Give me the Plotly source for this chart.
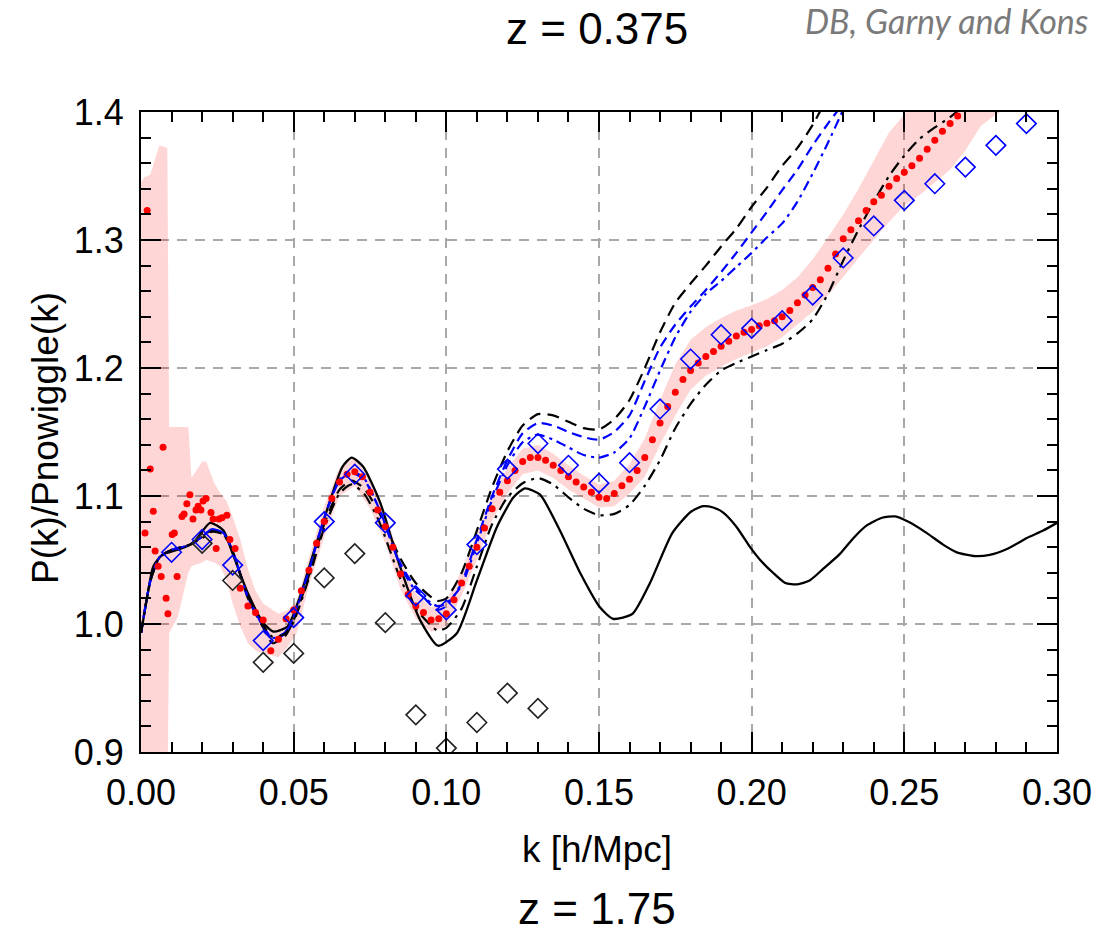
import numpy as np
import plotly.graph_objects as go

# ---------------- data ----------------
# linear-theory wiggle ratio (solid black)
k_lin = [0.000, 0.002, 0.004, 0.007, 0.012, 0.017, 0.0226, 0.027, 0.030, 0.035,
         0.040, 0.0433, 0.048, 0.052, 0.0564, 0.062, 0.066, 0.069, 0.0727, 0.0783,
         0.0848, 0.0914, 0.0973, 0.1035, 0.110, 0.1166, 0.122, 0.1258, 0.1307, 0.1372,
         0.1438, 0.1503, 0.1546, 0.161, 0.1667, 0.174, 0.180, 0.184, 0.1874, 0.1907,
         0.195, 0.1995, 0.2028, 0.207, 0.211, 0.2149, 0.219, 0.2234, 0.229, 0.2333,
         0.2377, 0.2427, 0.247, 0.2512, 0.2574, 0.2627, 0.2672, 0.2732, 0.278, 0.284,
         0.290, 0.2955, 0.300]
p_lin = [0.993, 1.021, 1.045, 1.054, 1.058, 1.063, 1.079, 1.073, 1.055, 1.024,
         1.001, 0.994, 0.998, 1.021, 1.055, 1.097, 1.123, 1.130, 1.123, 1.095,
         1.045, 1.003, 0.983, 0.993, 1.034, 1.076, 1.099, 1.106, 1.101, 1.073,
         1.040, 1.013, 1.004, 1.008, 1.032, 1.071, 1.0875, 1.092, 1.091, 1.087,
         1.076, 1.060, 1.050, 1.040, 1.032, 1.031, 1.034, 1.043, 1.055, 1.067,
         1.077, 1.083, 1.084, 1.080, 1.071, 1.062, 1.056, 1.053, 1.054, 1.059,
         1.067, 1.073, 1.079]

# resummed / perturbative predictions
k_model = [0.000, 0.003, 0.006, 0.010, 0.015, 0.020, 0.023, 0.027, 0.030, 0.035,
           0.040, 0.043, 0.047, 0.050, 0.055, 0.060, 0.065, 0.069, 0.073, 0.078,
           0.085, 0.090, 0.097, 0.100, 0.105, 0.110, 0.115, 0.120, 0.125, 0.130,
           0.135, 0.140, 0.145, 0.150, 0.155, 0.160, 0.165, 0.170, 0.175, 0.180,
           0.185, 0.190, 0.195, 0.200, 0.205, 0.210, 0.215, 0.220, 0.225, 0.230,
           0.235, 0.240, 0.245, 0.250, 0.255, 0.260, 0.265, 0.270]
p_black_dash = [0.993, 1.033, 1.052, 1.058, 1.061, 1.068, 1.073, 1.070, 1.057, 1.020,
                0.997, 0.985, 0.990, 1.003, 1.038, 1.078, 1.105, 1.112, 1.106, 1.087,
                1.051, 1.032, 1.018, 1.020, 1.040, 1.073, 1.107, 1.135, 1.155, 1.164,
                1.163, 1.158, 1.153, 1.152, 1.160, 1.175, 1.200, 1.228, 1.251, 1.266,
                1.280, 1.295, 1.309, 1.326, 1.341, 1.358, 1.372, 1.390, 1.412, 1.432,
                None, None, None, None, None, None, None, None]
p_blue_dash = [0.993, 1.033, 1.052, 1.058, 1.061, 1.068, 1.074, 1.071, 1.057, 1.021,
               0.998, 0.988, 0.992, 1.006, 1.042, 1.083, 1.112, 1.118, 1.113, 1.090,
               1.047, 1.028, 1.011, 1.014, 1.032, 1.066, 1.100, 1.128, 1.149, 1.157,
               1.155, 1.150, 1.146, 1.144, 1.150, 1.163, 1.190, 1.216, 1.234, 1.248,
               1.261, 1.275, 1.290, 1.306, 1.322, 1.339, 1.355, 1.374, 1.391, 1.407,
               1.425, None, None, None, None, None, None, None]
p_blue_dashdot = [0.993, 1.033, 1.052, 1.058, 1.061, 1.068, 1.074, 1.071, 1.057, 1.021,
                  0.998, 0.989, 0.993, 1.006, 1.042, 1.083, 1.113, 1.119, 1.114, 1.090,
                  1.045, 1.026, 1.014, 1.016, 1.030, 1.063, 1.097, 1.124, 1.142, 1.148,
                  1.144, 1.138, 1.132, 1.130, 1.134, 1.145, 1.170, 1.198, 1.224, 1.244,
                  1.258, 1.268, 1.279, 1.290, 1.302, 1.313, 1.330, 1.352, 1.376, 1.402,
                  1.430, None, None, None, None, None, None, None]
p_black_dashdot = [0.993, 1.033, 1.052, 1.058, 1.061, 1.067, 1.072, 1.070, 1.056, 1.022,
                   0.999, 0.990, 0.992, 1.002, 1.036, 1.075, 1.102, 1.109, 1.102, 1.080,
                   1.035, 1.012, 0.995, 0.997, 1.012, 1.045, 1.078, 1.099, 1.110, 1.114,
                   1.109, 1.099, 1.090, 1.085, 1.086, 1.093, 1.108, 1.128, 1.153, 1.172,
                   1.187, 1.198, 1.204, 1.209, 1.214, 1.219, 1.227, 1.238, 1.258, 1.284,
                   1.308, 1.330, 1.350, 1.366, 1.379, 1.388, 1.396, 1.406]

# N-body measurement: sparse low-k modes
k_sim_low = [0.0013, 0.0020, 0.0030, 0.0040, 0.0046, 0.0056, 0.0066, 0.0072, 0.0082, 0.0088,
             0.0102, 0.0109, 0.0118, 0.0134, 0.0141, 0.0150, 0.0160, 0.0170, 0.0180, 0.0187,
             0.0196, 0.0203, 0.0213, 0.0229, 0.0236, 0.0246, 0.0255, 0.0265, 0.0281, 0.0291,
             0.0308]
p_sim_low = [1.071, 1.323, 1.121, 1.088, 1.057, 1.045, 1.037, 1.138, 1.020, 1.008,
             1.070, 1.071, 1.037, 1.084, 1.086, 1.094, 1.101, 1.082, 1.089, 1.092,
             1.089, 1.096, 1.098, 1.087, 1.082, 1.059, 1.082, 1.083, 1.085, 1.066,
             1.059]

# N-body measurement: dense bins from k = 0.0325 in steps of 0.0025
k_sim = np.round(np.arange(0.0325, 0.27001, 0.0025), 4)
p_sim = [1.028, 1.014, 1.009, 1.003, 0.979, 0.988, 1.004, 1.011, 1.026, 1.042,
         1.063, 1.080, 1.098, 1.111, 1.117, 1.119, 1.115, 1.103, 1.089, 1.076,
         1.060, 1.039, 1.023, 1.014, 1.009, 1.003, 1.004, 1.008, 1.019, 1.032,
         1.045, 1.060, 1.075, 1.090, 1.103, 1.112, 1.120, 1.127, 1.130, 1.130,
         1.128, 1.124, 1.120, 1.115, 1.111, 1.107, 1.103, 1.099, 1.098, 1.102,
         1.108, 1.113, 1.120, 1.130, 1.144, 1.157, 1.170, 1.181, 1.191, 1.198,
         1.204, 1.209, 1.213, 1.217, 1.221, 1.225, 1.228, 1.230, 1.233, 1.235,
         1.237, 1.240, 1.245, 1.251, 1.257, 1.263, 1.269, 1.278, 1.289, 1.301,
         1.308, 1.315, 1.323, 1.330, 1.335, 1.342, 1.348, 1.353, 1.358, 1.364,
         1.371, 1.378, 1.385, 1.391, 1.397, 1.403]

# error band of the measurement
band_k = [0.0000, 0.0010, 0.0030, 0.0060, 0.0086, 0.0092, 0.0120, 0.0155, 0.0165, 0.0200,
          0.0213, 0.0240, 0.0260, 0.0280, 0.0300, 0.0325, 0.0350, 0.0375, 0.0400, 0.0450,
          0.0480, 0.0510, 0.0550, 0.0600, 0.0650, 0.0700, 0.0750, 0.0800, 0.0850, 0.0900,
          0.0950, 0.1000, 0.1050, 0.1100, 0.1150, 0.1200, 0.1250, 0.1300, 0.1350, 0.1400,
          0.1450, 0.1500, 0.1550, 0.1600, 0.1650, 0.1700, 0.1750, 0.1800, 0.1850, 0.1900,
          0.1950, 0.2000, 0.2050, 0.2100, 0.2150, 0.2200, 0.2250, 0.2300, 0.2350, 0.2400,
          0.2450, 0.2500, 0.2550, 0.2600, 0.2650, 0.2700, 0.2750, 0.2800, 0.2860]
band_lo = [0.850, 0.850, 0.850, 0.850, 0.850, 0.993, 1.005, 1.040, 1.045, 1.048,
           1.050, 1.048, 1.045, 1.034, 1.016, 0.998, 0.985, 0.979, 0.977, 0.974,
           0.982, 0.993, 1.030, 1.068, 1.100, 1.108, 1.090, 1.063, 1.027, 1.004,
           0.994, 0.998, 1.022, 1.050, 1.081, 1.102, 1.117, 1.120, 1.114, 1.105,
           1.098, 1.091, 1.092, 1.102, 1.115, 1.140, 1.163, 1.183, 1.194, 1.201,
           1.207, 1.212, 1.217, 1.224, 1.234, 1.244, 1.257, 1.271, 1.286, 1.300,
           1.314, 1.327, 1.335, 1.345, 1.355, 1.370, 1.389, 1.398, 1.406]
band_hi = [1.345, 1.349, 1.351, 1.374, 1.372, 1.154, 1.154, 1.154, 1.114, 1.127,
           1.127, 1.110, 1.102, 1.096, 1.084, 1.066, 1.043, 1.026, 1.016, 1.008,
           1.011, 1.018, 1.052, 1.092, 1.122, 1.130, 1.113, 1.087, 1.049, 1.024,
           1.013, 1.018, 1.042, 1.070, 1.101, 1.122, 1.137, 1.140, 1.133, 1.124,
           1.116, 1.109, 1.112, 1.125, 1.145, 1.175, 1.203, 1.222, 1.232, 1.239,
           1.245, 1.249, 1.254, 1.261, 1.271, 1.285, 1.302, 1.320, 1.340, 1.362,
           1.384, 1.398, 1.412, 1.425, 1.440, 1.450, 1.460, 1.460, 1.460]

# binned comparison points (diamonds)
k_bins_blue = [0.01, 0.02, 0.03, 0.04, 0.05, 0.06, 0.07, 0.08, 0.09, 0.10,
               0.11, 0.12, 0.13, 0.14, 0.15, 0.16, 0.17, 0.18, 0.19, 0.20,
               0.21, 0.22, 0.23, 0.24, 0.25, 0.26, 0.27, 0.28, 0.29, 0.30]
p_bins_blue = [1.056, 1.066, 1.046, 0.987, 1.005, 1.080, 1.117, 1.079, 1.022, 1.011,
               1.062, 1.121, 1.141, 1.124, 1.110, 1.126, 1.168, 1.207, 1.226, 1.231,
               1.237, 1.257, 1.286, 1.311, 1.331, 1.344, 1.357, 1.374, 1.391, 1.410]
k_bins_black = [0.02, 0.03, 0.04, 0.05, 0.06, 0.07, 0.08, 0.09, 0.10, 0.11, 0.12, 0.13]
p_bins_black = [1.063, 1.034, 0.970, 0.977, 1.036, 1.055, 1.001, 0.929, 0.903, 0.923, 0.946, 0.934]

# ---------------- figure ----------------
FONT = "Liberation Sans, Arial, Helvetica, sans-serif"
BLUE = "#0000ff"

fig = go.Figure()

# shaded error band
fig.add_trace(go.Scatter(
    x=list(band_k) + list(band_k[::-1]),
    y=list(band_hi) + list(band_lo[::-1]),
    fill="toself", fillcolor="rgba(255,0,0,0.16)",
    line=dict(width=0), mode="lines", hoverinfo="skip"))

# linear theory
fig.add_trace(go.Scatter(x=k_lin, y=p_lin, mode="lines",
                         line=dict(color="black", width=2.3, shape="spline", smoothing=0.6)))

# model curves
fig.add_trace(go.Scatter(x=k_model, y=p_black_dash, mode="lines",
                         line=dict(color="black", width=2.2, dash="12px,7px",
                                   shape="spline", smoothing=0.6)))
fig.add_trace(go.Scatter(x=k_model, y=p_blue_dash, mode="lines",
                         line=dict(color=BLUE, width=2.2, dash="10px,6px",
                                   shape="spline", smoothing=0.6)))
fig.add_trace(go.Scatter(x=k_model, y=p_blue_dashdot, mode="lines",
                         line=dict(color=BLUE, width=2.2, dash="10px,5px,3px,5px",
                                   shape="spline", smoothing=0.6)))
fig.add_trace(go.Scatter(x=k_model, y=p_black_dashdot, mode="lines",
                         line=dict(color="black", width=2.2, dash="12px,6px,3px,6px",
                                   shape="spline", smoothing=0.6)))

# measurement points
fig.add_trace(go.Scatter(x=k_sim_low, y=p_sim_low, mode="markers",
                         marker=dict(color="#ff0000", size=7, line=dict(width=0))))
fig.add_trace(go.Scatter(x=k_sim, y=p_sim, mode="markers",
                         marker=dict(color="#ff0000", size=7, line=dict(width=0))))

# diamonds
fig.add_trace(go.Scatter(x=k_bins_blue, y=p_bins_blue, mode="markers",
                         marker=dict(symbol="diamond-open", size=15, color=BLUE,
                                     line=dict(width=1.6, color=BLUE))))
fig.add_trace(go.Scatter(x=k_bins_black, y=p_bins_black, mode="markers",
                         marker=dict(symbol="diamond-open", size=15, color="#222222",
                                     line=dict(width=1.6, color="#222222"))))

axis_common = dict(
    ticks="inside", ticklen=20, tickwidth=2, tickcolor="black",
    showline=True, linewidth=2, linecolor="black", mirror="allticks",
    showgrid=True, gridcolor="#a8a8a8", gridwidth=1.5, griddash="10px,8px",
    zeroline=False, tickfont=dict(family=FONT, size=36, color="black"),
    ticklabelstandoff=8,
)

fig.update_xaxes(range=[-0.00002, 0.30002], tick0=0, dtick=0.05, tickformat=".2f",
                 minor=dict(dtick=0.01, ticks="inside", ticklen=10, tickwidth=2,
                            tickcolor="black", showgrid=False),
                 **axis_common)
fig.update_yaxes(range=[0.89995, 1.40005], tick0=0.9, dtick=0.1, tickformat=".1f",
                 minor=dict(dtick=0.02, ticks="inside", ticklen=10, tickwidth=2,
                            tickcolor="black", showgrid=False),
                 **axis_common)

annotations = [
    dict(text="z = 0.375", x=0.4978, y=1.131, xref="paper", yref="paper",
         xanchor="center", yanchor="middle", showarrow=False,
         font=dict(family=FONT, size=44, color="black")),
    dict(text="DB, Garny and Kons", x=0.7227, y=1.143, xref="paper", yref="paper",
         xanchor="left", yanchor="middle", showarrow=False,
         font=dict(family="Lato, Open Sans, sans-serif", size=34, color="#7a7a7a",
                   style="italic")),
    dict(text="k [h/Mpc]", x=0.4978, y=-0.153, xref="paper", yref="paper",
         xanchor="center", yanchor="middle", showarrow=False,
         font=dict(family=FONT, size=37, color="black")),
    dict(text="z = 1.75", x=0.4978, y=-0.2453, xref="paper", yref="paper",
         xanchor="center", yanchor="middle", showarrow=False,
         font=dict(family=FONT, size=44, color="black")),
    dict(text="P(k)/Pnowiggle(k)", x=-0.1048, y=0.4906, xref="paper", yref="paper",
         xanchor="center", yanchor="middle", showarrow=False, textangle=-90,
         font=dict(family=FONT, size=37, color="black")),
]

fig.update_layout(
    width=1117, height=935, autosize=False,
    margin=dict(l=141, r=60, t=112, b=183, pad=0),
    plot_bgcolor="white", paper_bgcolor="white",
    showlegend=False, annotations=annotations,
)

fig.write_html("out.html")
